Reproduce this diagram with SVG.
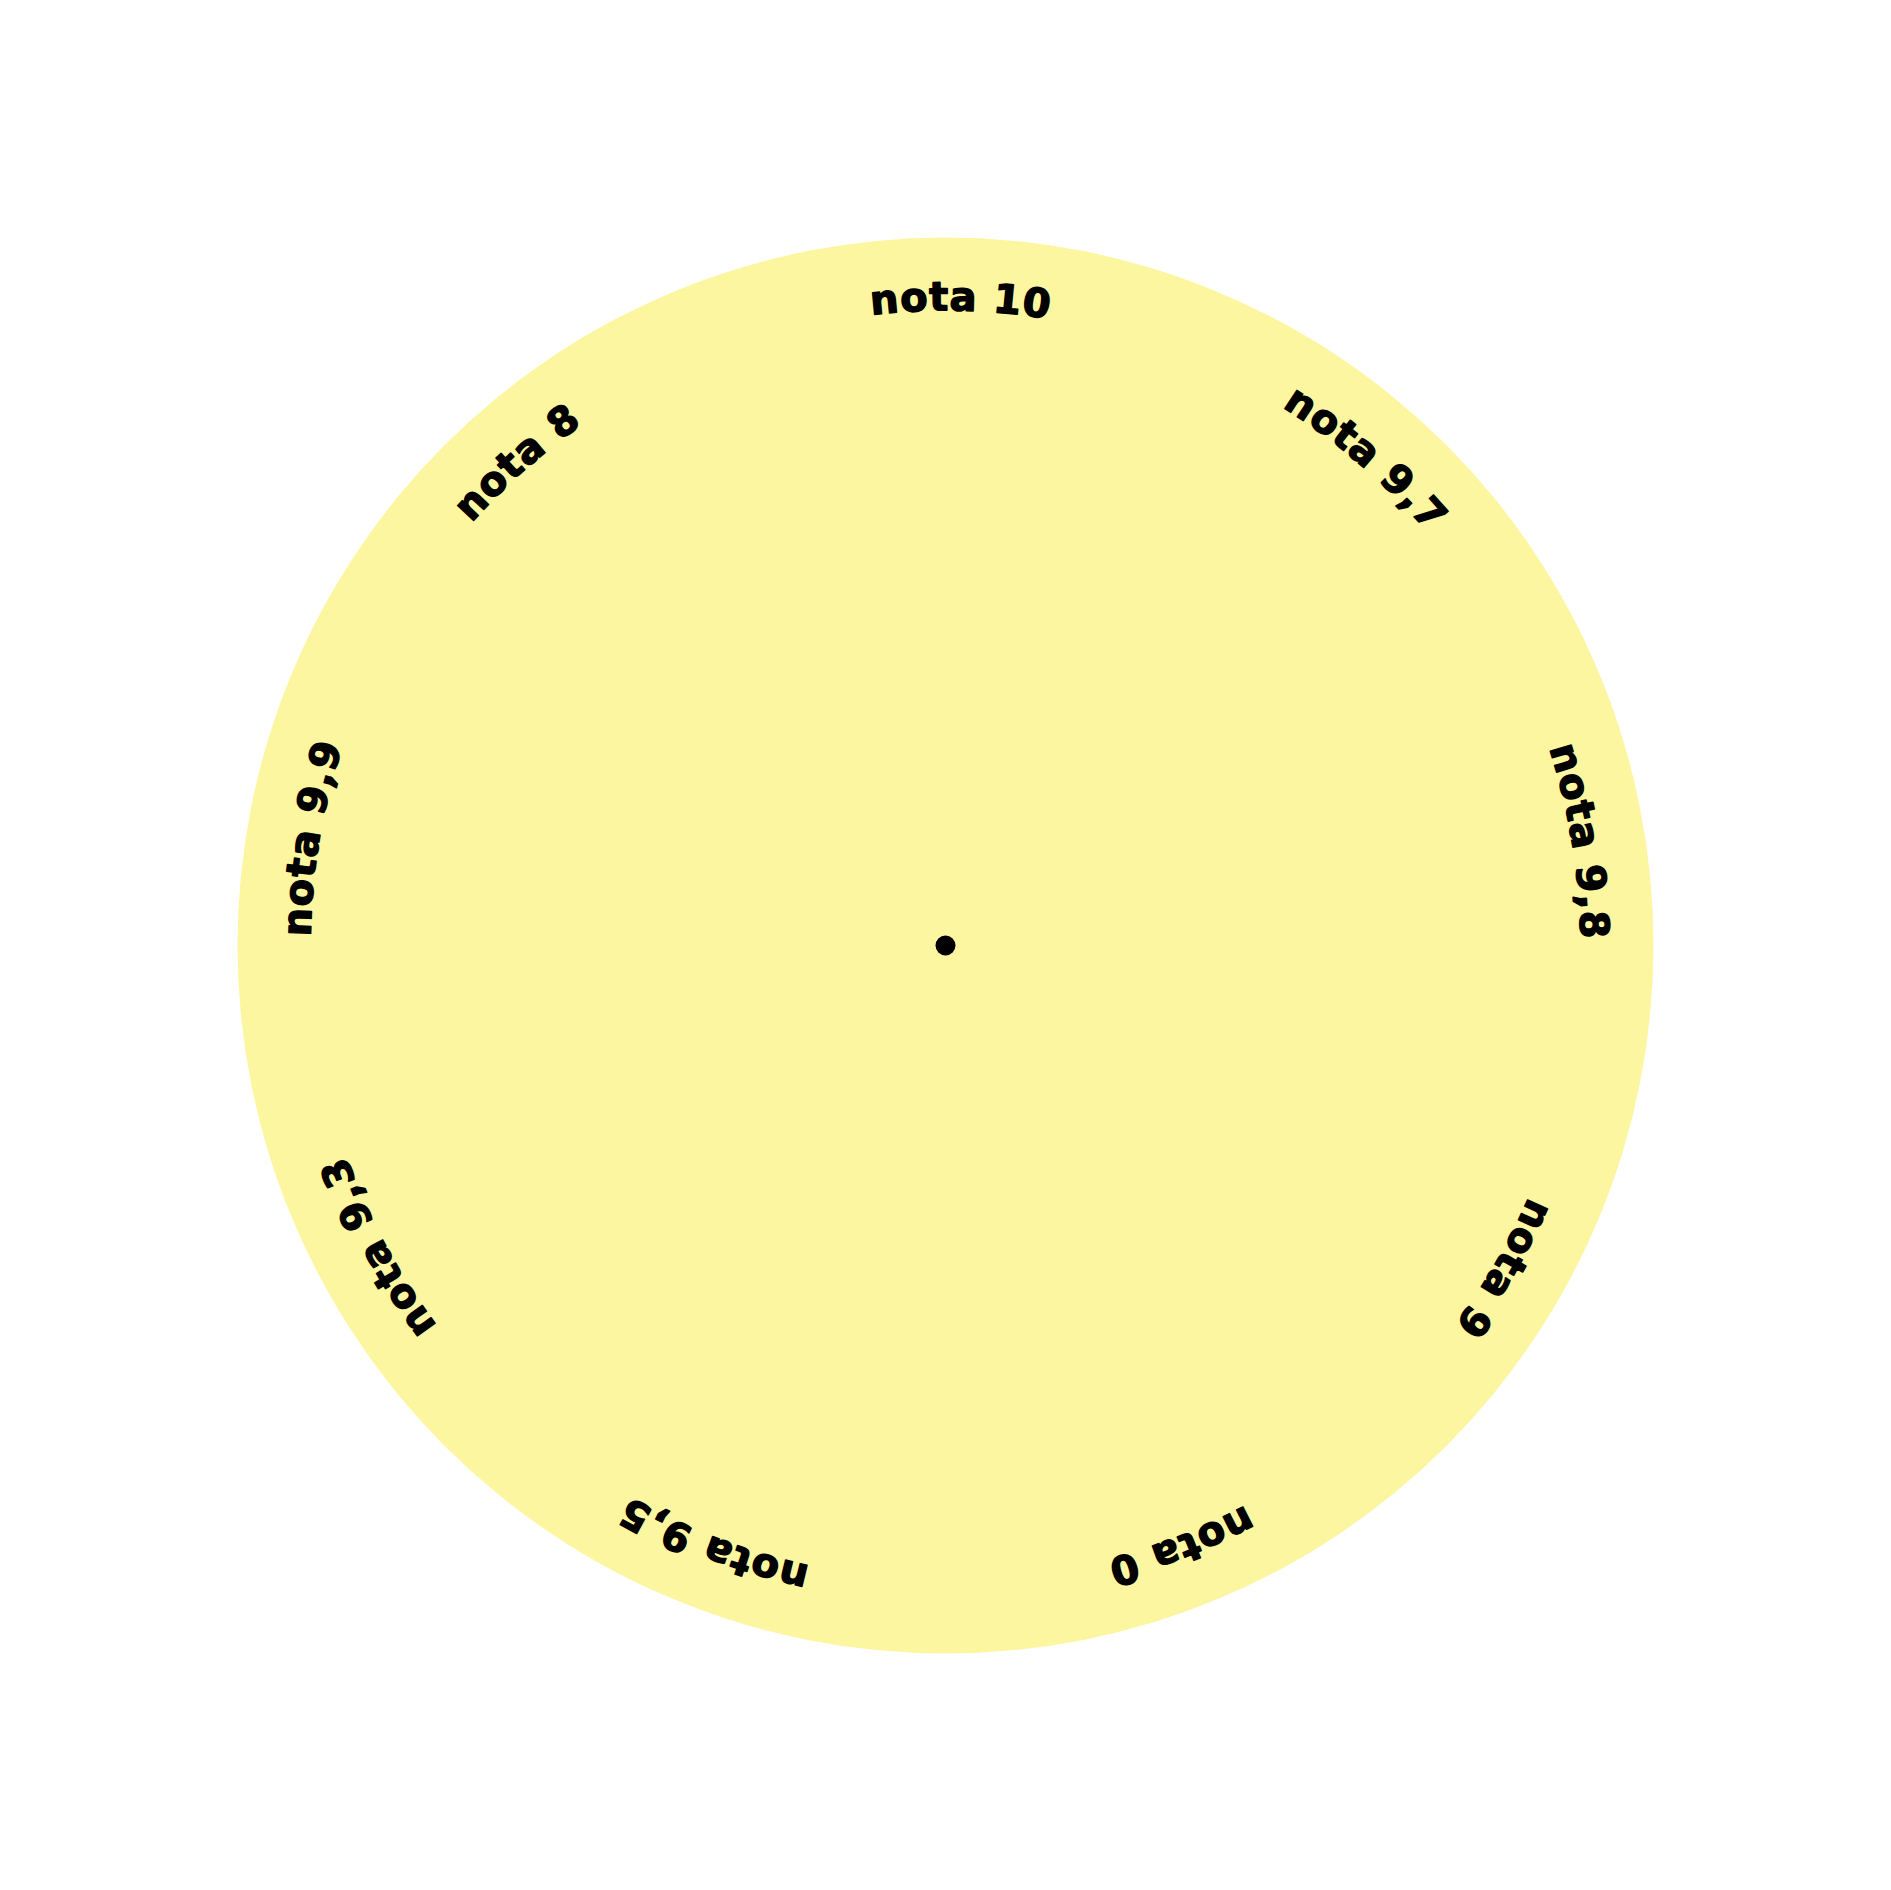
<svg xmlns="http://www.w3.org/2000/svg" xmlns:xlink="http://www.w3.org/1999/xlink" width="1891" height="1890" viewBox="0 0 1891 1890">
<style>
.lbl{font-family:"DejaVu Sans","Liberation Sans",sans-serif;font-weight:bold;font-size:40px;letter-spacing:1px;fill:#000;stroke:#000;stroke-width:1.4px;stroke-linejoin:round}
</style>
<defs>
<path id="ring" d="M1580.5,945.5 A635,635 0 1 1 310.5,945.5 A635,635 0 1 1 1580.5,945.5"/>
</defs>
<rect width="1891" height="1890" fill="#fff"/>
<g id="wheel">
<circle cx="945.5" cy="945.5" r="708" fill="#fdf6a0"/>
<circle cx="945.5" cy="945.5" r="10" fill="#000"/>
</g>
<g id="label-nota-10" transform="rotate(263.3 945.5 945.5)"><text class="lbl"><textPath xlink:href="#ring" href="#ring">nota 10</textPath></text></g>
<g id="label-nota-9-7" transform="rotate(302 945.5 945.5)"><text class="lbl"><textPath xlink:href="#ring" href="#ring">nota 9,7</textPath></text></g>
<g id="label-nota-9-8" transform="rotate(341.9 945.5 945.5)"><text class="lbl"><textPath xlink:href="#ring" href="#ring">nota 9,8</textPath></text></g>
<g id="label-nota-9" transform="rotate(23.3 945.5 945.5)"><text class="lbl"><textPath xlink:href="#ring" href="#ring">nota 9</textPath></text></g>
<g id="label-nota-0" transform="rotate(61.8 945.5 945.5)"><text class="lbl"><textPath xlink:href="#ring" href="#ring">nota 0</textPath></text></g>
<g id="label-nota-9-5" transform="rotate(102.3 945.5 945.5)"><text class="lbl"><textPath xlink:href="#ring" href="#ring">nota 9,5</textPath></text></g>
<g id="label-nota-9-3" transform="rotate(143.2 945.5 945.5)"><text class="lbl"><textPath xlink:href="#ring" href="#ring">nota 9,3</textPath></text></g>
<g id="label-nota-9-9" transform="rotate(180.8 945.5 945.5)"><text class="lbl"><textPath xlink:href="#ring" href="#ring">nota 9,9</textPath></text></g>
<g id="label-nota-8" transform="rotate(221.7 945.5 945.5)"><text class="lbl"><textPath xlink:href="#ring" href="#ring">nota 8</textPath></text></g>
</svg>
